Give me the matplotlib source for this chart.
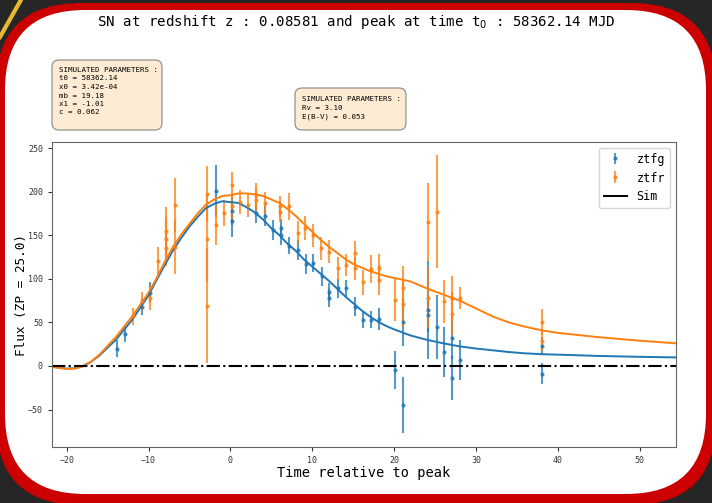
"""
SN light curve: simulated ztfg / ztfr photometry with model curves,
drawn inside a rounded red card frame.
"""
import matplotlib
matplotlib.use("Agg")
import matplotlib.pyplot as plt
from matplotlib.lines import Line2D
from matplotlib.patches import FancyBboxPatch
from matplotlib.transforms import IdentityTransform

plt.rcParams["font.family"] = ["DejaVu Sans Mono"]

# ── data ─────────────────────────────────────────────────────────────────────
g_t = [-13.9, -12.9, -10.8, -9.8, -1.8, 0.15, 0.15, 3.1, 4.2, 5.2, 6.2, 6.2,
       7.2, 8.2, 9.2, 10.1, 11.2, 12.1, 12.1, 13.2, 14.1, 15.2, 16.2, 17.2,
       18.2, 20.1, 21.1, 21.1, 24.1, 24.1, 25.2, 26.1, 27.1, 27.1, 28.1,
       38.1, 38.1]
g_flux = [20, 37, 68, 84, 201, 178, 166, 175, 172, 156, 158, 150,
          138, 133, 117, 118, 103, 85, 78, 89, 89, 68, 53, 53,
          54, -5, 50, -45, 64, 59, 45, 16, 32, -14, 7,
          23, -9]
g_err = [10, 10, 9, 12, 30, 16, 18, 11, 11, 11, 11, 11,
         10, 11, 11, 10, 11, 10, 10, 11, 10, 11, 10, 10,
         13, 22, 27, 32, 56, 20, 37, 29, 24, 25, 23,
         10, 12]

r_t = [-11.9, -10.8, -9.8, -8.8, -7.9, -7.9, -7.9, -6.8, -6.8, -2.9, -2.9,
       -2.9, -1.8, -0.8, 0.15, 0.15, 1.2, 2.1, 3.1, 3.1, 4.2, 6.1, 6.1, 7.2,
       8.2, 9.1, 10.1, 11.1, 12.1, 13.1, 14.1, 15.2, 15.2, 16.2, 17.2, 18.2,
       18.2, 20.1, 21.1, 21.1, 24.2, 24.2, 25.3, 26.1, 27.1, 27.1, 28.1,
       38.1, 38.1]
r_flux = [57, 74, 78, 120, 155, 146, 135, 185, 136, 197, 146,
          69, 162, 176, 208, 184, 188, 185, 196, 190, 187, 183, 177, 183,
          153, 158, 150, 135, 131, 112, 116, 130, 112, 96, 111, 112,
          99, 76, 89, 71, 165, 78, 177, 74, 78, 60, 78,
          50, 29]
r_err = [10, 11, 14, 17, 27, 25, 20, 31, 31, 32, 50,
         66, 23, 15, 15, 15, 14, 14, 14, 14, 13, 12, 12, 15,
         13, 14, 13, 13, 13, 13, 13, 13, 13, 14, 16, 17,
         17, 24, 26, 26, 45, 35, 65, 25, 25, 25, 13,
         15, 12]

# model curves
sim_t = [-21.8, -20, -19, -18, -17, -16, -14, -12, -10, -9, -8, -7, -6, -5,
         -4, -3, -2, -1, 0, 1, 2, 3, 4, 5, 6, 7, 8, 9, 10, 11, 12, 13, 14,
         15, 16, 17, 18, 19, 20, 22, 24, 26, 28, 30, 32, 34, 36, 38, 40, 45,
         50, 54.4]
sim_g = [-1, -3, -2.5, 0, 5, 12, 30, 53, 81, 99, 116, 133, 147, 160,
         171, 181, 186, 189, 188, 187, 182, 176, 168, 158, 150, 140, 132, 122,
         114, 106, 98, 89, 80, 72, 64, 57, 51, 46, 42, 35, 30, 26, 22.5, 20,
         18, 16, 14.5, 13.5, 13, 11.5, 10.5, 9.8]
sim_r = [-1, -3.5, -3, -0.5, 5, 13, 33, 57, 84, 101, 120, 137, 151, 163,
         175, 185, 191, 195, 196, 198, 198, 197, 195, 191, 187, 180, 172, 163,
         154, 145, 137, 130, 123, 117, 113, 109, 106, 103, 101, 97, 89, 82,
         75, 66, 57, 50, 45, 41, 38, 33, 29, 26]

BLUE = "#1f77b4"
ORANGE = "#ff7f0e"
H = 503  # figure height in pixels, for placing things by image coords

# ── figure with the card frame ───────────────────────────────────────────────
fig = plt.figure(figsize=(7.12, 5.03), dpi=100, facecolor="#262626")
ident = IdentityTransform()
fig.patches.append(FancyBboxPatch((-4, -2), 720, 502,
                                  boxstyle="round,pad=0,rounding_size=85",
                                  fc="#cc0000", ec="none", transform=ident,
                                  zorder=-3))
fig.patches.append(FancyBboxPatch((5, 9), 701, 484,
                                  boxstyle="round,pad=0,rounding_size=80",
                                  fc="white", ec="none", transform=ident,
                                  zorder=-2))
fig.lines.append(Line2D([0, 22], [466, 505], color="#e8b830", lw=3,
                        transform=ident, zorder=-4))

ax = fig.add_axes([0.073, 0.1113, 0.876, 0.6064])
ax.set_facecolor("white")

ax.errorbar(g_t, g_flux, yerr=g_err, fmt=".", color=BLUE, ms=4,
            elinewidth=1.5, alpha=0.75, label="ztfg")
ax.errorbar(r_t, r_flux, yerr=r_err, fmt=".", color=ORANGE, ms=4,
            elinewidth=1.5, alpha=0.75, label="ztfr")
ax.plot(sim_t, sim_g, color=BLUE, lw=1.4)
ax.plot(sim_t, sim_r, color=ORANGE, lw=1.4)
ax.axhline(0, color="black", ls="-.", lw=1.5)

ax.set_xlim(-21.8, 54.4)
ax.set_ylim(-93, 257)
ax.set_xticks(range(-20, 51, 10))
ax.set_yticks(range(-50, 251, 50))
ax.tick_params(labelsize=6, length=3, colors="#333333")
for s in ax.spines.values():
    s.set_color("#666666")

ax.set_xlabel("Time relative to peak", fontsize=9.8, labelpad=1)
ax.set_ylabel("Flux (ZP = 25.0)", fontsize=9.2, labelpad=0)

handles, labels = ax.get_legend_handles_labels()
handles.append(Line2D([], [], color="black", lw=1.4))
labels.append("Sim")
ax.legend(handles, labels, loc="upper right", fontsize=8.5)

fig.text(0.5, 1 - 22 / H,
         "SN at redshift z : 0.08581 and peak at time t$_0$ : 58362.14 MJD",
         ha="center", va="center", fontsize=10.2)

# parameter boxes
for x0, y0, w, h in [(52, 60, 110, 70), (295, 88, 111, 42)]:
    fig.patches.append(FancyBboxPatch((x0, H - y0 - h), w, h,
                                      boxstyle="round,pad=0,rounding_size=7",
                                      fc="#fdebd3", ec="#888888", lw=0.8,
                                      transform=ident, zorder=1))
fig.text(59 / 712, 1 - 67 / H,
         "SIMULATED PARAMETERS :\nt0 = 58362.14\nx0 = 3.42e-04\nmb = 19.18\n"
         "x1 = -1.01\nc = 0.062",
         ha="left", va="top", fontsize=5.4, linespacing=1.5, zorder=2)
fig.text(302 / 712, 1 - 96 / H,
         "SIMULATED PARAMETERS :\nRv = 3.10\nE(B-V) = 0.053",
         ha="left", va="top", fontsize=5.4, linespacing=1.5, zorder=2)

fig.savefig("out.png", dpi=100, facecolor=fig.get_facecolor())
